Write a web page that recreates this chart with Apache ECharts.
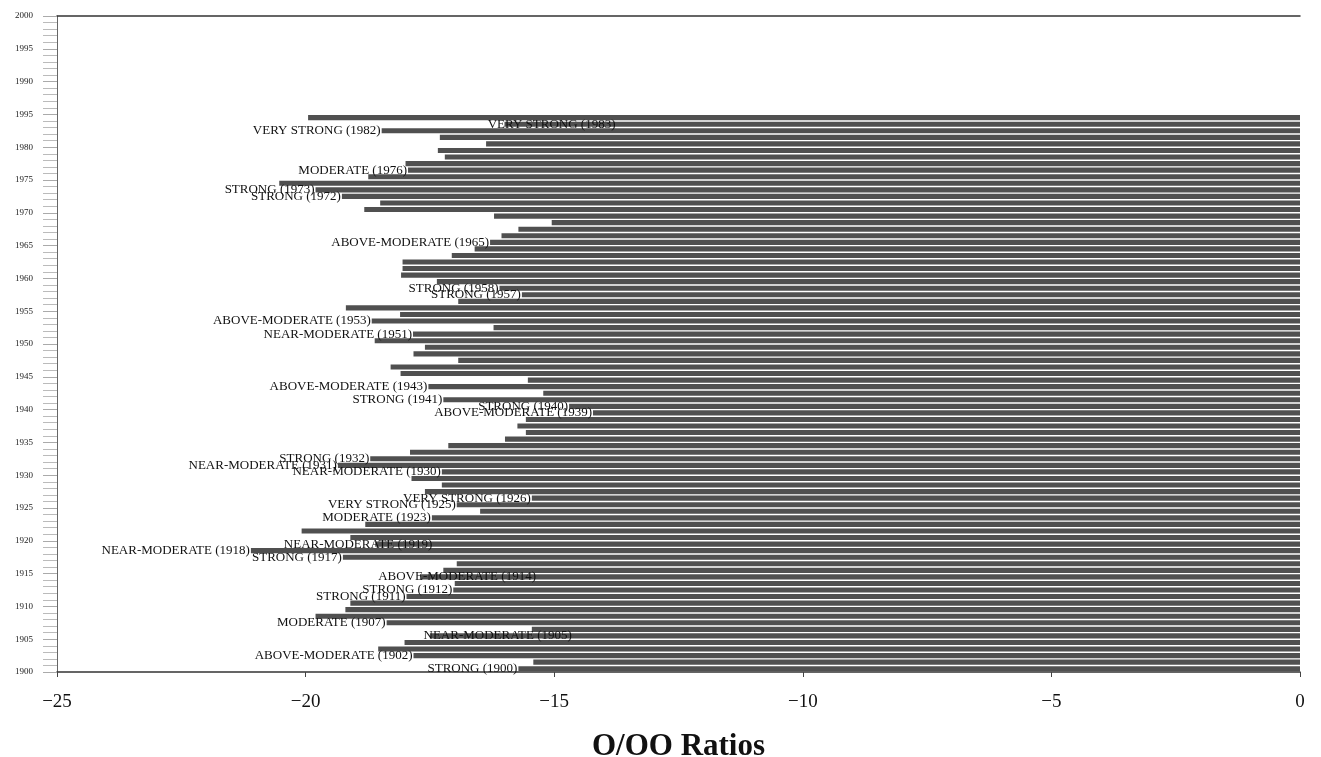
<!DOCTYPE html>
<html>
<head>
<meta charset="utf-8">
<title>O/OO Ratios</title>
<script src="https://cdn.jsdelivr.net/npm/echarts@6/dist/echarts.min.js"></script>
<style>
  html, body { margin: 0; padding: 0; background: #fff; }
  #chart { width: 1321px; height: 757px; }
</style>
</head>
<body>
<div id="chart"></div>
<script>
// years with a bar, 1900..1984
const firstYear = 1900;
const ratios = [
  -15.72, -15.42, -17.83, -18.54, -18.01, -17.5, -15.45, -18.37, -19.8, -19.2,   // 1900s
  -19.1, -17.97, -17.03, -17.0, -17.7, -17.23, -16.96, -19.25, -21.1, -18.6,     // 1910s
  -19.1, -20.08, -18.8, -17.46, -16.49, -16.96, -15.45, -17.6, -17.26, -17.87,   // 1920s
  -17.26, -19.35, -18.7, -17.9, -17.13, -15.99, -15.57, -15.74, -15.57, -14.22,  // 1930s
  -14.7, -17.23, -15.22, -17.53, -15.53, -18.09, -18.29, -16.93, -17.83, -17.6,  // 1940s
  -18.61, -17.84, -16.22, -18.67, -18.1, -19.19, -16.93, -15.65, -16.1, -17.36,  // 1950s
  -18.08, -18.05, -18.05, -17.06, -16.6, -16.29, -16.06, -15.72, -15.05, -16.21, // 1960s
  -18.82, -18.5, -19.27, -19.8, -20.53, -18.74, -17.94, -17.99, -17.2, -17.34,   // 1970s
  -16.37, -17.3, -18.47, -16.0, -19.95                                            // 1980s
];

// event labels: year and class
const events = [
  [1983, 'VERY STRONG'], [1982, 'VERY STRONG'], [1976, 'MODERATE'],
  [1973, 'STRONG'], [1972, 'STRONG'], [1965, 'ABOVE-MODERATE'],
  [1958, 'STRONG'], [1957, 'STRONG'], [1953, 'ABOVE-MODERATE'],
  [1951, 'NEAR-MODERATE'], [1943, 'ABOVE-MODERATE'], [1941, 'STRONG'],
  [1940, 'STRONG'], [1939, 'ABOVE-MODERATE'], [1932, 'STRONG'],
  [1931, 'NEAR-MODERATE'], [1930, 'NEAR-MODERATE'], [1926, 'VERY STRONG'],
  [1925, 'VERY STRONG'], [1923, 'MODERATE'], [1919, 'NEAR-MODERATE'],
  [1918, 'NEAR-MODERATE'], [1917, 'STRONG'], [1914, 'ABOVE-MODERATE'],
  [1912, 'STRONG'], [1911, 'STRONG'], [1907, 'MODERATE'],
  [1905, 'NEAR-MODERATE'], [1902, 'ABOVE-MODERATE'], [1900, 'STRONG']
];

// y tick labels every 5 years from 1900 to 2000 (as printed, 1985 reads 1995)
const yTickLabels = ['1900', '1905', '1910', '1915', '1920', '1925', '1930', '1935', '1940',
  '1945', '1950', '1955', '1960', '1965', '1970', '1975', '1980', '1995', '1990', '1995', '2000'];

// labels that sit over their bar instead of at its end (pixel shift)
const labelShift = { 1983: 112, 1919: 58, 1914: 117, 1905: 143 };

const yearCats = [];
for (let y = 1900; y < 2000; y++) yearCats.push(String(y));

const eventMap = {};
events.forEach(e => { eventMap[e[0]] = e[1]; });

const barData = ratios.map((v, i) => {
  const year = firstYear + i;
  if (!eventMap[year]) return v;
  return {
    value: v,
    label: { show: true, formatter: eventMap[year] + ' (' + year + ')' }
  };
});

const serif = '"Liberation Serif", "DejaVu Serif", serif';

const chart = echarts.init(document.getElementById('chart'));
chart.setOption({
  animation: false,
  backgroundColor: '#fff',
  grid: { left: 57, right: 21, top: 16, bottom: 85, outerBoundsMode: 'none', containLabel: false },
  xAxis: [
    {
      type: 'value',
      min: -25,
      max: 0,
      interval: 5,
      name: 'O/OO Ratios',
      nameLocation: 'middle',
      nameGap: 59,
      nameTextStyle: { fontFamily: serif, fontSize: 31, fontWeight: 'bold', color: '#111' },
      axisLine: { show: true, onZero: false, lineStyle: { color: '#333', width: 1.5 } },
      axisTick: { show: true, length: 5, lineStyle: { color: '#444' } },
      axisLabel: {
        fontFamily: serif, fontSize: 19, color: '#111', margin: 21,
        formatter: v => String(v).replace('-', '\u2212')
      },
      splitLine: { show: false }
    },
    {
      type: 'value',
      position: 'top',
      min: -25,
      max: 0,
      axisLine: { show: true, onZero: false, lineStyle: { color: '#333', width: 1.5 } },
      axisTick: { show: false },
      axisLabel: { show: false },
      splitLine: { show: false }
    }
  ],
  yAxis: [
    {
      type: 'value',
      position: 'left',
      min: 1900,
      max: 2000,
      interval: 5,
      axisLine: { show: true, onZero: false, lineStyle: { color: '#666', width: 1 } },
      axisTick: { show: true, length: 14, lineStyle: { color: '#aaa' } },
      minorTick: { show: true, splitNumber: 5, length: 14, lineStyle: { color: '#bbb' } },
      axisLabel: {
        fontFamily: serif, fontSize: 9, color: '#222', margin: 24,
        showMinLabel: true, showMaxLabel: true,
        formatter: v => yTickLabels[Math.round((v - 1900) / 5)]
      },
      splitLine: { show: false }
    },
    {
      type: 'category',
      position: 'right',
      data: yearCats,
      boundaryGap: true,
      axisLine: { show: false },
      axisTick: { show: false },
      axisLabel: { show: false },
      splitLine: { show: false }
    }
  ],
  series: [
    {
      type: 'bar',
      xAxisIndex: 0,
      yAxisIndex: 1,
      data: barData,
      barCategoryGap: '22%',
      itemStyle: { color: '#505050' },
      label: {
        show: false,
        position: 'left',
        distance: 1,
        fontFamily: serif,
        fontSize: 13,
        color: '#111'
      },
      labelLayout: params => ({
        hideOverlap: false,
        dx: labelShift[firstYear + params.dataIndex] || 0
      }),
      z: 2
    }
  ]
});
</script>
</body>
</html>
